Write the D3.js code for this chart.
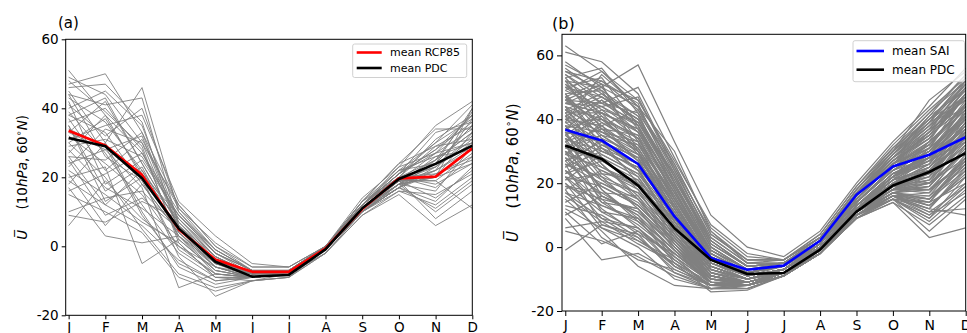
<!DOCTYPE html>
<html>
<head>
<meta charset="utf-8">
<script src="https://cdn.jsdelivr.net/npm/d3@7"></script>
<style>
  body { margin: 0; background: #fff; }
  svg text { font-family: "DejaVu Sans", sans-serif; fill: #000; }
</style>
</head>
<body>
<div id="chart"></div>
<script>
// Month tick labels
var months = ["J", "F", "M", "A", "M", "J", "J", "A", "S", "O", "N", "D"];
var yTicks = [-20, 0, 20, 40, 60];

// Panel (a): ensemble means
var rcp85Mean = [33.5, 29.2, 20.7, 4.9, -3.8, -7.4, -7.4, -0.6, 10.8, 19.7, 20.2, 28.4];
var pdcMeanA  = [31.4, 29.0, 19.7, 5.2, -4.5, -8.8, -8.3, -0.9, 11.0, 19.5, 23.9, 29.2];

// Panel (b): ensemble means
var saiMean  = [36.7, 33.4, 26.0, 9.6, -3.4, -7.1, -5.8, 2.0, 16.4, 25.2, 28.9, 34.4];
var pdcMeanB = [31.8, 27.6, 19.3, 5.9, -4.0, -8.4, -8.1, -0.8, 11.1, 19.3, 23.5, 29.4];

// Panel (a): individual RCP85 members
var rcp85Members = [
  [51, 38, 27, 8, -3, -8, -7, -1, 12, 21, 28, 38],
  [49, 44, 30, 5, -6, -9, -8, -1, 11, 19, 24, 35],
  [47, 50, 33, 12, 0, -7, -7, 0, 12, 22, 30, 41],
  [45, 30, 46, 10, -2, -8, -7, -1, 13, 20, 25, 33],
  [44, 41, 43, 6, -5, -9, -8, -1, 10, 18, 16, 29],
  [43, 36, 22, 3, -8, -9, -8, -1, 11, 19, 22, 37],
  [42, 18, 25, 9, -1, -7, -7, 0, 12, 23, 27, 30],
  [40, 45, 35, 7, -4, -8, -8, -1, 10, 20, 18, 24],
  [39, 27, 12, -2, -9, -10, -8, -1, 11, 18, 20, 40],
  [38, 33, 18, 4, -6, -9, -8, -1, 12, 21, 33, 36],
  [37, 22, 31, 11, 1, -6, -6, 0, 13, 24, 29, 31],
  [36, 40, 28, 2, -7, -9, -8, -1, 10, 19, 14, 22],
  [35, 13, 20, 8, -3, -8, -7, -1, 11, 17, 22, 28],
  [34, 29, 9, -5, -10, -9, -8, -2, 10, 17, 25, 39],
  [33, 42, 24, 6, -4, -8, -7, -1, 12, 20, 21, 26],
  [32, 24, 15, 0, -6, -9, -8, -1, 11, 19, 27, 34],
  [31, 35, 38, 13, 3, -5, -6, 0, 14, 23, 35, 42],
  [30, 20, 5, -8, -12, -10, -9, -2, 9, 16, 12, 20],
  [29, 31, 26, 9, -2, -7, -7, 0, 12, 20, 23, 32],
  [28, 17, 11, 3, -7, -9, -8, -1, 11, 18, 10, 18],
  [27, 38, 20, -3, -14.5, -10, -9, -1, 10, 18, 24, 35],
  [26, 25, 33, 6, -4, -8, -7, 0, 12, 21, 30, 37],
  [25, 9, 14, 5, -5, -8, -8, -1, 11, 19, 19, 27],
  [24, 28, 17, -12, -8, -9, -8, -1, 10, 17, 13, 23],
  [23, 34, 30, 12, 0, -6, -6, 0, 13, 22, 26, 30],
  [22, 15, 7, 1, -9, -9, -8, -1, 11, 18, 20, 33],
  [21, 6, 18, 4, -6, -9, -8, -1, 11, 19, 8, 16],
  [20, 23, -5, 2, -7, -9, -8, -1, 10, 17, 21, 25],
  [19, 12, 22, 7, -3, -8, -7, 0, 12, 21, 28, 36],
  [18, 30, 10, -6, -11, -9, -8, -2, 10, 16, 15, 21],
  [17, 3, 1, 3, -5, -8, -7, -1, 11, 18, 22, 29],
  [16, 21, 27, 10, -1, -7, -7, 0, 12, 22, 24, 40],
  [15, 10, 4, -9, -13, -10, -9, -2, 9, 15, 6, 12],
  [10, 14, 16, 5, -4, -8, -8, -1, 11, 19, 25, 33],
  [9, 7, 13, 8, -2, -7, -7, 0, 12, 20, 17, 26],
  [6, 19, 8, 0, -8, -9, -8, -1, 10, 17, 23, 31],
  [46, 47, 36, 4, -5, -8, -7, -1, 11, 20, 31, 38],
  [48, 39, 29, 1, -9, -9, -8, -1, 11, 19, 19, 11],
  [41, 32, 40, 11, -1, -7, -7, 0, 13, 24, 34, 34],
  [44, 26, 19, -1, -8, -9, -8, -1, 10, 18, 26, 28],
  [38, 43, 24, 6, -3, -8, -7, -1, 12, 21, 27, 38],
  [35, 16, 23, 3, -6, -8, -8, -1, 11, 19, 20, 24],
  [30, 37, 21, 9, -2, -7, -7, 0, 12, 20, 29, 35],
  [26, 12, 6, -4, -10, -9, -8, -1, 10, 17, 11, 19],
  [33, 28, 32, 5, -5, -8, -8, -1, 11, 19, 23, 30]
];

// Panel (b): individual SAI members
var saiMembers = [
  [63, 55, 44, 30, 5, -5, -4, 3, 18, 30, 40, 52],
  [61, 58, 48, 25, 2, -6, -5, 2, 16, 28, 36, 48],
  [58, 50, 57, 33, 10, 0, -3, 5, 20, 33, 44, 56],
  [55, 52, 45, 20, -2, -8, -6, 1, 15, 26, 32, 45],
  [54, 47, 40, 22, 0, -7, -5, 2, 17, 29, 38, 50],
  [53, 56, 42, 18, -4, -9, -7, 1, 14, 25, 30, 42],
  [52, 45, 50, 28, 6, -3, -4, 4, 19, 31, 42, 54],
  [51, 40, 35, 12, -6, -10, -7, 0, 13, 23, 28, 40],
  [50, 53, 38, 15, -3, -8, -6, 1, 15, 26, 34, 47],
  [49, 44, 47, 24, 3, -5, -5, 3, 18, 30, 46, 55],
  [48, 49, 33, 10, -7, -11, -8, 0, 12, 21, 25, 38],
  [47, 38, 43, 26, 4, -4, -4, 3, 17, 28, 35, 44],
  [46, 51, 30, 8, -8, -11, -8, -1, 12, 22, 20, 35],
  [45, 42, 37, 19, -1, -7, -6, 2, 16, 27, 37, 51],
  [44, 35, 28, 6, -9, -12, -8, -1, 11, 20, 24, 33],
  [43, 48, 41, 21, 1, -6, -5, 2, 16, 29, 41, 49],
  [42, 30, 25, 4, -10, -12, -9, -1, 11, 19, 18, 30],
  [41, 46, 36, 17, -2, -8, -6, 1, 15, 26, 31, 46],
  [40, 33, 20, 2, -11, -12, -8, -1, 10, 18, 22, 36],
  [39, 54, 44, 23, 2, -6, -5, 2, 17, 30, 39, 53],
  [38, 26, 16, 0, -12, -13, -9, -2, 10, 17, 15, 28],
  [37, 41, 34, 14, -4, -9, -7, 1, 14, 25, 33, 43],
  [36, 22, 12, -3, -13, -13, -9, -2, 9, 16, 12, 25],
  [35, 43, 39, 20, 0, -7, -6, 2, 16, 27, 36, 48],
  [34, 28, 22, 7, -8, -11, -8, 0, 12, 20, 26, 39],
  [33, 37, 31, 13, -5, -10, -7, 1, 14, 24, 30, 41],
  [32, 18, 9, -5, -14, -13.5, -9, -2, 9, 15, 9, 22],
  [31, 35, 27, 11, -6, -10, -7, 0, 13, 22, 29, 37],
  [30, 24, 18, 5, -9, -11, -8, 0, 12, 19, 23, 34],
  [29, 39, 33, 16, -3, -8, -6, 1, 15, 26, 32, 45],
  [28, 15, 6, -6, -12, -12, -8, -1, 10, 16, 14, 26],
  [27, 31, 24, 9, -7, -10, -7, 0, 13, 21, 27, 40],
  [26, 20, 14, 1, -11, -12, -8, -1, 11, 18, 19, 31],
  [25, 34, 29, 12, -5, -9, -7, 1, 14, 24, 28, 38],
  [24, 12, 4, -8, -13, -12, -9, -2, 10, 16, 10, 20],
  [23, 27, 20, 6, -8, -11, -8, 0, 12, 20, 25, 35],
  [22, 9, 2, -4, -12, -12, -8, -1, 10, 17, 16, 29],
  [21, 23, 15, 3, -10, -11, -8, -1, 11, 19, 21, 33],
  [20, 6, 0, -10, -13, -13, -9, -2, 9, 15, 5, 15],
  [19, 17, 10, -1, -11, -12, -8, -1, 11, 18, 18, 27],
  [18, 3, -4, -7, -12, -11, -8, -1, 10, 16, 13, 23],
  [17, 13, 8, -2, -11, -12, -8, -1, 10, 17, 20, 30],
  [15, 5, -6, -12, -13, -12, -8, -2, 10, 15, 8, 18],
  [13, 10, 3, -6, -12, -11, -8, -1, 10, 16, 15, 24],
  [11, 1, 5, -3, -11, -11, -8, -1, 10, 16, 11, 12],
  [9, -4, -2, -8, -12, -12, -8, -2, 9, 14, 7, 16],
  [6, 8, 1, -5, -11, -11, -8, -1, 10, 15, 12, 10],
  [5, 2, -3, -9, -13, -12, -9, -2, 9, 14, 3, 6],
  [-1, 7, 4, -2, -10, -11, -8, -1, 10, 15, 14, 20],
  [57, 51, 46, 27, 7, -2, -4, 4, 19, 32, 43, 53],
  [56, 48, 39, 23, 1, -6, -5, 2, 17, 28, 37, 49],
  [54, 45, 42, 25, 5, -4, -4, 3, 18, 31, 40, 51],
  [52, 50, 37, 19, -1, -7, -6, 2, 15, 26, 35, 47],
  [51, 43, 34, 15, -3, -8, -6, 1, 14, 24, 30, 44],
  [50, 47, 40, 21, 2, -6, -5, 2, 16, 28, 38, 50],
  [48, 36, 29, 13, -5, -9, -7, 0, 13, 22, 27, 42],
  [47, 52, 43, 22, 1, -6, -5, 2, 16, 29, 39, 46],
  [46, 39, 32, 16, -4, -9, -6, 1, 14, 25, 33, 44],
  [45, 44, 38, 18, -2, -8, -6, 1, 15, 27, 34, 48],
  [44, 40, 31, 14, -5, -9, -7, 1, 14, 24, 31, 41],
  [43, 37, 35, 17, -1, -7, -6, 2, 15, 26, 36, 47],
  [42, 42, 30, 10, -6, -10, -7, 0, 13, 22, 26, 39],
  [41, 36, 33, 15, -3, -8, -6, 1, 14, 25, 32, 43],
  [40, 38, 27, 11, -6, -10, -7, 0, 13, 23, 29, 42],
  [39, 32, 26, 9, -7, -10, -7, 0, 12, 21, 24, 37],
  [38, 36, 30, 13, -4, -9, -7, 1, 14, 24, 30, 40],
  [37, 29, 23, 8, -7, -10, -8, 0, 12, 21, 25, 36],
  [36, 33, 28, 12, -5, -9, -7, 1, 13, 23, 28, 38],
  [35, 25, 19, 5, -9, -11, -8, 0, 11, 19, 21, 32],
  [34, 30, 25, 10, -6, -10, -7, 0, 13, 22, 27, 36],
  [33, 21, 17, 4, -9, -11, -8, -1, 11, 18, 20, 30],
  [31, 27, 21, 8, -7, -10, -8, 0, 12, 21, 24, 34],
  [30, 19, 13, 2, -10, -12, -8, -1, 11, 18, 17, 28],
  [29, 25, 20, 7, -8, -11, -8, 0, 12, 20, 22, 32],
  [27, 16, 11, 0, -11, -12, -8, -1, 10, 17, 15, 26],
  [26, 22, 17, 4, -9, -11, -8, -1, 11, 19, 20, 30],
  [24, 14, 7, -2, -11, -12, -8, -1, 10, 17, 13, 22],
  [22, 19, 13, 2, -10, -11, -8, -1, 11, 18, 18, 27],
  [20, 11, 9, -1, -11, -12, -8, -1, 10, 16, 16, 25],
  [16, 8, 6, -4, -12, -12, -8, -1, 10, 16, 11, 19],
  [53, 41, 29, 9, -6, -10, -7, 0, 12, 22, 33, 50],
  [49, 55, 46, 26, 4, -4, -4, 3, 18, 30, 42, 52],
  [47, 34, 24, 5, -8, -11, -8, 0, 12, 20, 28, 45],
  [45, 50, 44, 24, 3, -5, -5, 3, 17, 29, 40, 47],
  [44, 28, 18, 1, -10, -12, -8, -1, 11, 19, 22, 41],
  [42, 47, 40, 20, 0, -7, -6, 2, 16, 28, 37, 44],
  [41, 26, 15, -1, -11, -12, -9, -1, 10, 17, 19, 35],
  [40, 44, 36, 18, -2, -8, -6, 1, 15, 27, 35, 50],
  [38, 23, 21, 3, -9, -11, -8, -1, 11, 18, 25, 39],
  [37, 46, 38, 19, -1, -8, -6, 2, 16, 28, 38, 46],
  [36, 16, 10, -4, -12, -12, -9, -2, 10, 16, 17, 32],
  [35, 40, 34, 17, -3, -8, -6, 1, 15, 26, 33, 43],
  [34, 18, 8, -2, -11, -12, -8, -1, 10, 17, 14, 28],
  [33, 42, 37, 16, -2, -8, -6, 1, 15, 27, 34, 47],
  [32, 14, 12, 0, -10, -11, -8, -1, 11, 18, 21, 36],
  [31, 38, 30, 14, -4, -9, -7, 1, 14, 25, 31, 41],
  [30, 11, 5, -6, -12, -12, -9, -2, 10, 16, 12, 24],
  [29, 35, 32, 15, -3, -9, -7, 1, 14, 25, 29, 44],
  [28, 21, 13, 2, -9, -11, -8, -1, 11, 18, 23, 37],
  [27, 33, 28, 12, -5, -9, -7, 0, 13, 23, 27, 33],
  [26, 7, 3, -7, -12, -12, -9, -2, 10, 15, 9, 19],
  [25, 30, 25, 10, -6, -10, -7, 0, 13, 22, 30, 42],
  [24, 17, 16, 3, -9, -11, -8, -1, 11, 18, 24, 34],
  [23, 32, 26, 11, -5, -9, -7, 0, 13, 23, 26, 39],
  [22, 13, 9, -1, -11, -12, -8, -1, 10, 17, 15, 27],
  [21, 29, 23, 8, -7, -10, -8, 0, 12, 21, 28, 37],
  [19, 15, 12, 1, -10, -11, -8, -1, 11, 17, 19, 31],
  [18, 24, 19, 5, -8, -10, -8, 0, 12, 20, 23, 35],
  [17, 9, 6, -3, -11, -12, -9, -1, 10, 16, 13, 22],
  [14, 20, 15, 2, -9, -11, -8, -1, 11, 18, 20, 28],
  [12, 6, 2, -5, -12, -12, -8, -2, 10, 15, 10, 17],
  [10, 16, 11, 0, -10, -11, -8, -1, 11, 17, 18, 26],
  [55, 49, 41, 22, 2, -6, -5, 2, 17, 29, 41, 54],
  [52, 37, 27, 8, -7, -10, -7, 0, 12, 21, 31, 48],
  [50, 42, 36, 17, -2, -8, -6, 1, 15, 26, 36, 52],
  [48, 31, 22, 4, -9, -11, -8, 0, 12, 20, 26, 43],
  [46, 45, 39, 20, 0, -7, -5, 2, 16, 28, 39, 51],
  [43, 33, 24, 7, -7, -10, -7, 0, 12, 22, 29, 40],
  [39, 40, 31, 13, -4, -9, -7, 1, 14, 24, 32, 45],
  [37, 31, 26, 9, -6, -10, -7, 0, 13, 22, 28, 41]
];

var svg = d3.select("#chart").append("svg")
    .attr("width", 967)
    .attr("height", 333);

function drawPanel(opt) {
    var x = d3.scaleLinear().domain(opt.xDomain).range([opt.left, opt.right]);
    var y = d3.scaleLinear().domain(opt.yDomain).range([opt.bottom, opt.top]);

    var g = svg.append("g");

    // clip lines to the axes box
    g.append("clipPath").attr("id", "clip-" + opt.id)
      .append("rect")
        .attr("x", opt.left).attr("y", opt.top)
        .attr("width", opt.right - opt.left).attr("height", opt.bottom - opt.top);

    var line = d3.line()
        .x(function(d, i) { return x(i); })
        .y(function(d) { return y(d); });

    var plot = g.append("g").attr("clip-path", "url(#clip-" + opt.id + ")");

    plot.selectAll(".member")
        .data(opt.members)
        .enter().append("path")
        .attr("class", "member")
        .attr("d", line)
        .attr("fill", "none")
        .attr("stroke", "#808080")
        .attr("stroke-width", opt.memberWidth);

    opt.means.forEach(function(m) {
        plot.append("path")
            .datum(m.values)
            .attr("d", line)
            .attr("fill", "none")
            .attr("stroke", m.color)
            .attr("stroke-width", 2.6)
            .attr("stroke-linejoin", "round");
    });

    // axes frame
    g.append("rect")
        .attr("x", opt.left).attr("y", opt.top)
        .attr("width", opt.right - opt.left).attr("height", opt.bottom - opt.top)
        .attr("fill", "none")
        .attr("stroke", "#000")
        .attr("stroke-width", 1);

    // x axis
    var xAxis = g.append("g")
        .attr("transform", "translate(0," + opt.bottom + ")")
        .call(d3.axisBottom(x).tickValues(d3.range(12))
            .tickFormat(function(d) { return months[d]; })
            .tickSize(opt.tickLen).tickPadding(opt.xPad));
    xAxis.select(".domain").remove();
    xAxis.selectAll("text").style("font-size", opt.tickFont + "px");

    // y axis
    var yAxis = g.append("g")
        .attr("transform", "translate(" + opt.left + ",0)")
        .call(d3.axisLeft(y).tickValues(yTicks)
            .tickFormat(function(d) { return String(d); })
            .tickSize(opt.tickLen).tickPadding(3));
    yAxis.select(".domain").remove();
    yAxis.selectAll("text").style("font-size", opt.tickFont + "px");
    g.selectAll(".tick line").attr("stroke", "#000");

    // panel label
    g.append("text")
        .attr("x", opt.titleX).attr("y", opt.titleY)
        .style("font-size", opt.titleFont + "px")
        .text(opt.title);

    // y axis label
    var cy = (opt.top + opt.bottom) / 2;
    var lab = g.append("text")
        .attr("transform", "translate(" + opt.labelX + "," + cy + ") rotate(-90)")
        .attr("text-anchor", "middle")
        .style("font-size", opt.labelFont + "px");
    lab.append("tspan").style("font-style", "italic").text("U\u0305");
    lab.append("tspan").text("\u2003\u2002(10");
    lab.append("tspan").style("font-style", "italic").text("hPa");
    lab.append("tspan").text(", 60");
    lab.append("tspan").attr("baseline-shift", "super").style("font-size", "70%").text("\u2218");
    lab.append("tspan").style("font-style", "italic").text("N");
    lab.append("tspan").text(")");

    // legend
    var lg = opt.legend;
    g.append("rect")
        .attr("x", lg.x).attr("y", lg.y)
        .attr("width", lg.w).attr("height", lg.h)
        .attr("rx", 2)
        .attr("fill", "#fff").attr("fill-opacity", 0.8)
        .attr("stroke", "#d0d0d0");
    opt.means.forEach(function(m, i) {
        var ly = lg.y + lg.first + i * lg.step;
        g.append("line")
            .attr("x1", lg.x + lg.pad).attr("x2", lg.x + lg.pad + lg.len)
            .attr("y1", ly).attr("y2", ly)
            .attr("stroke", m.color).attr("stroke-width", 2.6);
        g.append("text")
            .attr("x", lg.x + lg.textOff).attr("y", ly)
            .attr("dy", "0.35em")
            .style("font-size", lg.font + "px")
            .text(m.name);
    });
}

drawPanel({
    id: "a", title: "(a)", titleX: 58, titleY: 27.5, titleFont: 15,
    left: 65.7, right: 472.3, top: 39.3, bottom: 315.3,
    xDomain: [-0.08, 11], yDomain: [-20, 60],
    tickLen: 4, xPad: 3, tickFont: 13.5,
    labelX: 27, labelFont: 13.5,
    memberWidth: 0.9,
    members: rcp85Members,
    means: [
        { name: "mean RCP85", values: rcp85Mean, color: "#ff0000" },
        { name: "mean PDC", values: pdcMeanA, color: "#000000" }
    ],
    legend: { x: 352.7, y: 44, w: 114, h: 33.5, pad: 4, len: 25, textOff: 37.3, first: 8.5, step: 15.5, font: 11 }
});

drawPanel({
    id: "b", title: "(b)", titleX: 552, titleY: 28.5, titleFont: 16,
    left: 562, right: 965.7, top: 34.3, bottom: 311,
    xDomain: [-0.09, 11], yDomain: [-20, 66.6],
    tickLen: 5, xPad: 4, tickFont: 14,
    labelX: 518, labelFont: 15,
    memberWidth: 1.2,
    members: saiMembers,
    means: [
        { name: "mean SAI", values: saiMean, color: "#0000ff" },
        { name: "mean PDC", values: pdcMeanB, color: "#000000" }
    ],
    legend: { x: 853, y: 40.7, w: 111.5, h: 41, pad: 3.5, len: 27.5, textOff: 39, first: 10.3, step: 18.7, font: 12 }
});
</script>
</body>
</html>
